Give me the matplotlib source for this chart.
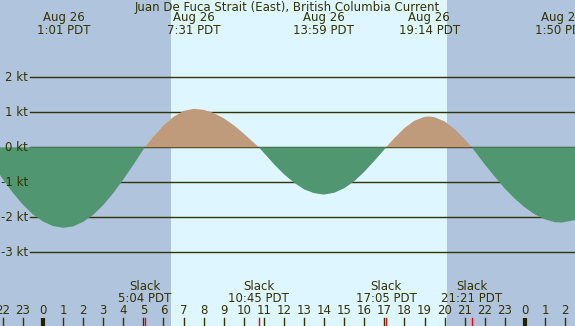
import matplotlib
matplotlib.use("Agg")
import matplotlib.pyplot as plt
import numpy as np

# current speed (kt), hours from midnight Aug 26 (PDT)
hours = [-2.5, -2.0, -1.5, -1.0, -0.5, 0.0, 0.5, 1.017, 1.5, 2.0, 2.5, 3.0,
         3.5, 4.0, 4.5, 5.0, 5.067, 5.5, 6.0, 6.5, 7.0, 7.517, 8.0, 8.5, 9.0,
         9.5, 10.0, 10.5, 10.75, 11.0, 11.5, 12.0, 12.5, 13.0, 13.5, 13.983,
         14.5, 15.0, 15.5, 16.0, 16.5, 17.0, 17.083, 17.5, 18.0, 18.5, 19.0,
         19.233, 19.5, 20.0, 20.5, 21.0, 21.35, 21.5, 22.0, 22.5, 23.0, 23.5,
         24.0, 24.5, 25.0, 25.5, 25.833, 26.5, 27.0]
speed = [-0.48, -0.91, -1.30, -1.64, -1.92, -2.12, -2.25, -2.30, -2.26, -2.13,
         -1.93, -1.65, -1.31, -0.92, -0.50, -0.06, 0.0, 0.30, 0.62, 0.87, 1.04,
         1.10, 1.07, 0.98, 0.83, 0.63, 0.39, 0.13, 0.0, -0.16, -0.48, -0.77,
         -1.01, -1.20, -1.31, -1.35, -1.30, -1.17, -0.97, -0.70, -0.39, -0.06,
         0.0, 0.26, 0.55, 0.76, 0.87, 0.88, 0.86, 0.74, 0.52, 0.23, 0.0, -0.11,
         -0.49, -0.84, -1.18, -1.47, -1.72, -1.92, -2.06, -2.14, -2.15, -2.08,
         -1.98]

# max flood / ebb events (top labels)
peak_hours = [1.017, 7.517, 13.983, 19.233, 25.833]
peak_labels = ["1:01 PDT", "7:31 PDT", "13:59 PDT", "19:14 PDT", "1:50 PDT"]

# slack events (bottom labels)
slack_hours = [5.067, 10.75, 17.083, 21.35]
slack_labels = ["5:04 PDT", "10:45 PDT", "17:05 PDT", "21:21 PDT"]

sunrise, sunset = 6.37, 20.12
kt_levels = [2, 1, 0, -1, -2, -3]
hour_ticks = list(range(-2, 27))

NIGHT = "#b0c4de"
DAY = "#ddf6ff"
FLOOD = "#bf9b7b"
EBB = "#509670"
INK = "#333300"
FS = 8.5
FONT = "DejaVu Sans"

W, H = 575, 326
fig = plt.figure(figsize=(W / 100, H / 100), dpi=100)
ax = fig.add_axes([0, 0, 1, 1])
x0 = -43 / 20.08
x1 = x0 + W / 20.08
ax.set_xlim(x0, x1)
ax.set_ylim(-(H - 147.3) / 35, 147.3 / 35)
ax.axis("off")

ax.axvspan(x0, sunrise, color=NIGHT, lw=0)
ax.axvspan(sunrise, sunset, color=DAY, lw=0)
ax.axvspan(sunset, x1, color=NIGHT, lw=0)

# grid lines and kt labels
xl = x0 + 30 / 20.08
for k in kt_levels:
    ax.plot([xl, x1], [k, k], color=INK, lw=1.0, zorder=2)
    ax.text(x0 + 28 / 20.08, k, f"{k} kt", ha="right", va="center",
            fontsize=FS, color=INK, family=FONT, zorder=6)

t = np.array(hours)
v = np.array(speed)
ax.fill_between(t, v, 0, where=v >= 0, color=FLOOD, lw=0, zorder=3)
ax.fill_between(t, v, 0, where=v <= 0, color=EBB, lw=0, zorder=3)

xt = ax.get_xaxis_transform()


def py(px):
    return 1 - px / H


txt = dict(ha="center", va="center", fontsize=FS, color=INK,
           family=FONT, zorder=6)

ax.text(0.5, py(7), "Juan De Fuca Strait (East), British Columbia Current",
        transform=ax.transAxes, **txt)

for h, lab in zip(peak_hours, peak_labels):
    ax.text(h, py(18), "Aug 26", transform=xt, **txt)
    ax.text(h, py(31), lab, transform=xt, **txt)

for h, lab in zip(slack_hours, slack_labels):
    ax.text(h, py(287), "Slack", transform=xt, **txt)
    ax.text(h, py(298.5), lab, transform=xt, **txt)
    ax.plot([h, h], [0, py(318)], color="red", lw=1, transform=xt, zorder=4)

for h in hour_ticks:
    ax.text(h, py(310), str(h % 24), transform=xt, **txt)
    if h % 24 == 0:
        ax.plot([h, h], [0, py(318)], color="#222200", lw=3,
                transform=xt, zorder=4, solid_capstyle="butt")
    else:
        ax.plot([h, h], [0, py(318)], color=INK, lw=1,
                transform=xt, zorder=4)

fig.savefig("out.png", dpi=100)
